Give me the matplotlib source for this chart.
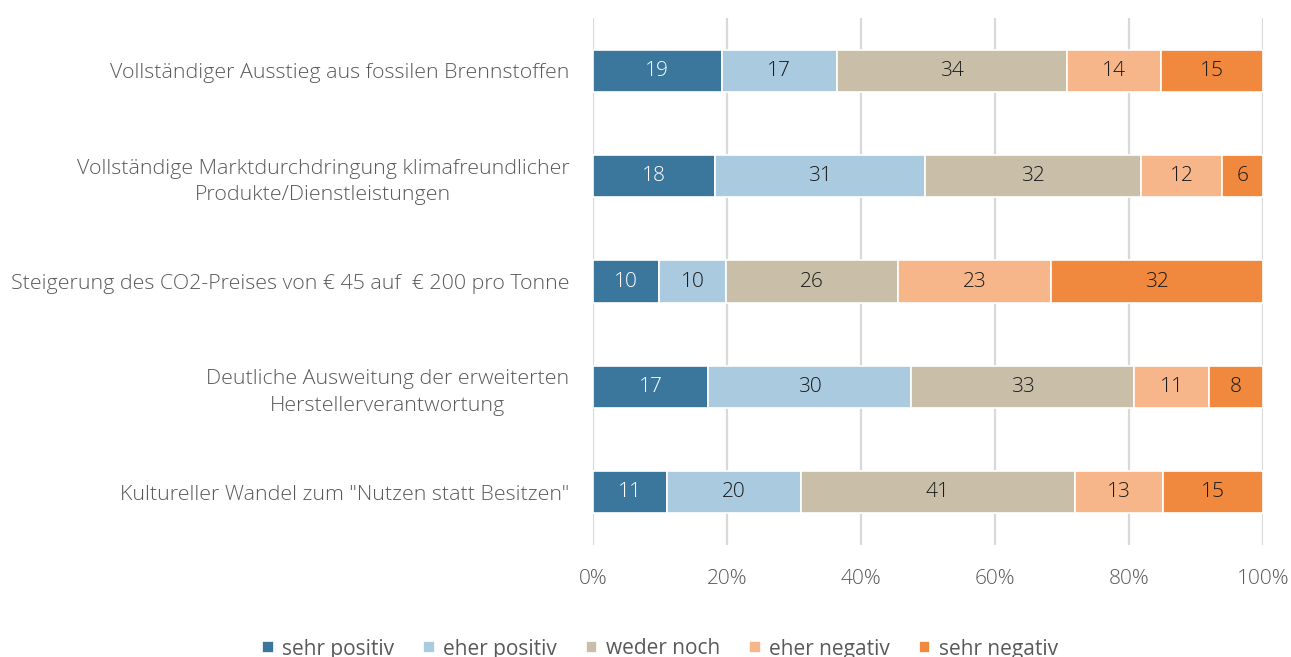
import matplotlib
matplotlib.use("Agg")
import matplotlib.pyplot as plt
import numpy as np
from matplotlib import font_manager

categories = [
    "Vollständiger Ausstieg aus fossilen Brennstoffen",
    "Vollständige Marktdurchdringung klimafreundlicher\nProdukte/Dienstleistungen",
    "Steigerung des CO2-Preises von € 45 auf  € 200 pro Tonne",
    "Deutliche Ausweitung der erweiterten\nHerstellerverantwortung",
    "Kultureller Wandel zum \"Nutzen statt Besitzen\"",
]
series_names = ["sehr positiv", "eher positiv", "weder noch", "eher negativ", "sehr negativ"]
sehr_positiv = [19, 18, 10, 17, 11]
eher_positiv = [17, 31, 10, 30, 20]
weder_noch = [34, 32, 26, 33, 41]
eher_negativ = [14, 12, 23, 11, 13]
sehr_negativ = [15, 6, 32, 8, 15]
x_ticks = [0, 20, 40, 60, 80, 100]

colors = ["#3B779C", "#AACAE0", "#C9BFA8", "#F7B68A", "#F0883D"]
text_colors = ["white", "#1A1A1A", "#1A1A1A", "#1A1A1A", "#1A1A1A"]

fams = {f.name for f in font_manager.fontManager.ttflist}
family = "Open Sans" if "Open Sans" in fams else "DejaVu Sans"
plt.rcParams["font.family"] = [family, "DejaVu Sans"]

FS = 15

data = np.array([sehr_positiv, eher_positiv, weder_noch, eher_negativ, sehr_negativ], dtype=float)
totals = data.sum(axis=0)
pct = data / totals * 100

fig = plt.figure(figsize=(12.91, 6.57), dpi=100)
ax = fig.add_axes([593/1291, 1-545/657, 670/1291, 527/657])

y = np.arange(len(categories))
left = np.zeros(len(categories))
handles = []
for i, name in enumerate(series_names):
    bars = ax.barh(y, pct[i], left=left, height=0.4, color=colors[i],
                   edgecolor="white", linewidth=1.2, label=name, zorder=3)
    handles.append(bars)
    for j in range(len(categories)):
        ax.text(left[j] + pct[i][j] / 2, y[j], f"{int(data[i][j])}",
                ha="center", va="center", fontsize=FS, color=text_colors[i],
                fontweight="light", zorder=4)
    left += pct[i]

ax.set_ylim(len(categories) - 0.5, -0.5)
ax.set_xlim(0, 100)
ax.set_yticks(y)
ax.set_yticklabels(categories, fontsize=15.4, color="#595959", fontweight="light",
                   ha="right", multialignment="center", linespacing=1.45)
ax.set_xticks(x_ticks)
ax.set_xticklabels([f"{t}%" for t in x_ticks], fontsize=FS, color="#595959", fontweight="light")
ax.tick_params(axis="y", length=0, pad=17)
ax.tick_params(axis="x", length=0, pad=17)
ax.grid(axis="x", color="#D9D9D9", linewidth=1.6, zorder=0)
for s in ax.spines.values():
    s.set_visible(False)

fig.legend(handles=handles, labels=series_names, loc="center", ncol=5,
           bbox_to_anchor=(660/1291, 1-649/657), frameon=False, fontsize=FS,
           handlelength=0.55, handleheight=0.55, handletextpad=0.4, columnspacing=1.4,
           labelcolor="#595959")

fig.savefig("out.png", dpi=100)
